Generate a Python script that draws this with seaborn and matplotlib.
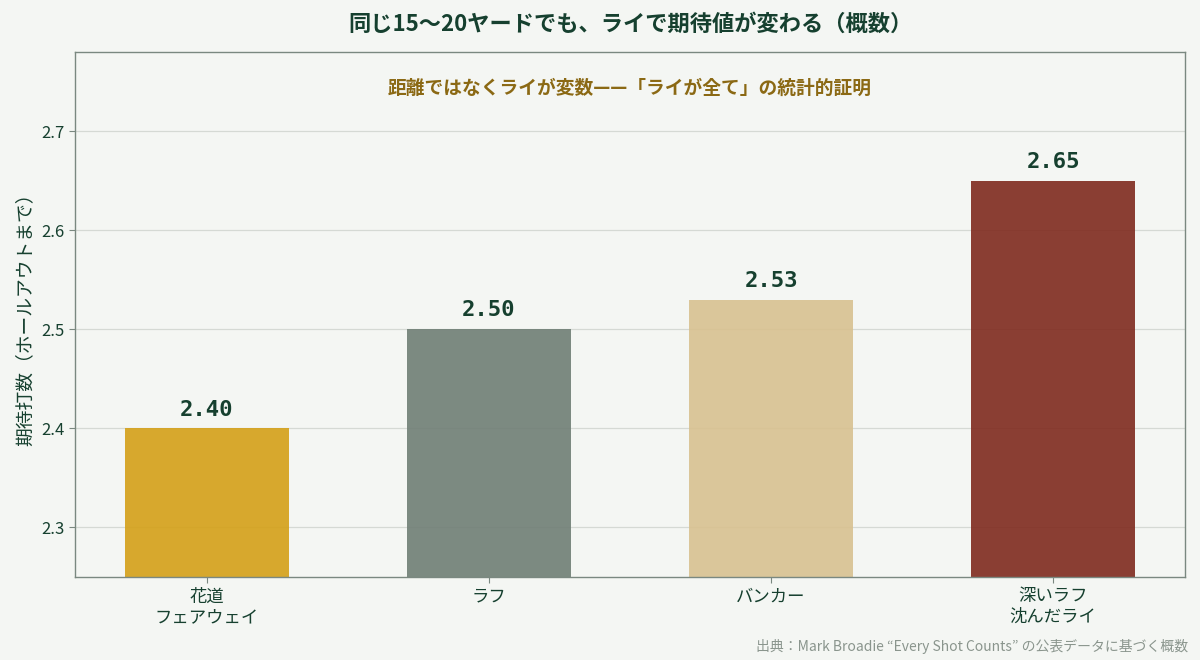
import matplotlib
matplotlib.use("Agg")
import matplotlib.pyplot as plt
import seaborn as sns
import pandas as pd

categories = ["花道\nフェアウェイ", "ラフ", "バンカー", "深いラフ\n沈んだライ"]
values = [2.40, 2.50, 2.53, 2.65]
colors = ["#D4A017", "#6F7E75", "#D8C190", "#7F2A1E"]
yticks = [2.3, 2.4, 2.5, 2.6, 2.7]

BG = "#F4F6F3"
DARK = "#16402F"
GRID = "#D5D9D4"
SPINE = "#7A8880"

sns.set_theme(style="white")
plt.rcParams['font.family'] = ['Noto Sans CJK JP', 'DejaVu Sans']

df = pd.DataFrame({"cat": categories, "val": values})

fig = plt.figure(figsize=(12, 6.6), dpi=100, facecolor=BG)
ax = fig.add_axes([75/1200, 1-577/660, 1110/1200, 525/660])
ax.set_facecolor(BG)
ax.set_axisbelow(True)
ax.yaxis.grid(True, color=GRID, linewidth=0.9)

sns.barplot(data=df, x="cat", y="val", hue="cat", palette=colors, legend=False,
            width=0.58, alpha=0.9, ax=ax, saturation=1, linewidth=0, edgecolor="none")

ax.set_ylim(2.25, 2.78)
ax.set_xlim(-0.468, 3.468)
ax.set_yticks(yticks)
ax.set_yticklabels([f"{t:.1f}" for t in yticks], fontsize=12, color=DARK)
ax.tick_params(axis='x', labelsize=12.5, colors=DARK, length=4, width=0.8, color=SPINE, bottom=True)
ax.tick_params(axis='y', length=4, width=0.8, color=SPINE, left=True, labelcolor=DARK)
for lbl in ax.get_xticklabels():
    lbl.set_color(DARK)
ax.set_xlabel("")
ax.set_ylabel("期待打数（ホールアウトまで）", fontsize=13.5, color=DARK, labelpad=4)
for s in ax.spines.values():
    s.set_color(SPINE)
    s.set_linewidth(1.0)

for i, v in enumerate(values):
    ax.text(i, v + 0.009, f"{v:.2f}", ha="center", va="bottom", fontsize=16,
            fontweight="bold", color=DARK, family="DejaVu Sans Mono")

fig.text(630/1200, 1-24/660, "同じ15〜20ヤードでも、ライで期待値が変わる（概数）", ha="center", va="center",
         fontsize=16, fontweight="bold", color=DARK)
ax.text(0.5, 1-(88-52)/525, "距離ではなくライが変数——「ライが全て」の統計的証明", transform=ax.transAxes,
        ha="center", va="center", fontsize=13.5, fontweight="bold", color="#8B6914")
fig.text(1-12/1200, 1-647/660, "出典：Mark Broadie “Every Shot Counts” の公表データに基づく概数",
         ha="right", va="center", fontsize=10, color="#8A958D")

fig.savefig("out.png", dpi=100, facecolor=BG)
